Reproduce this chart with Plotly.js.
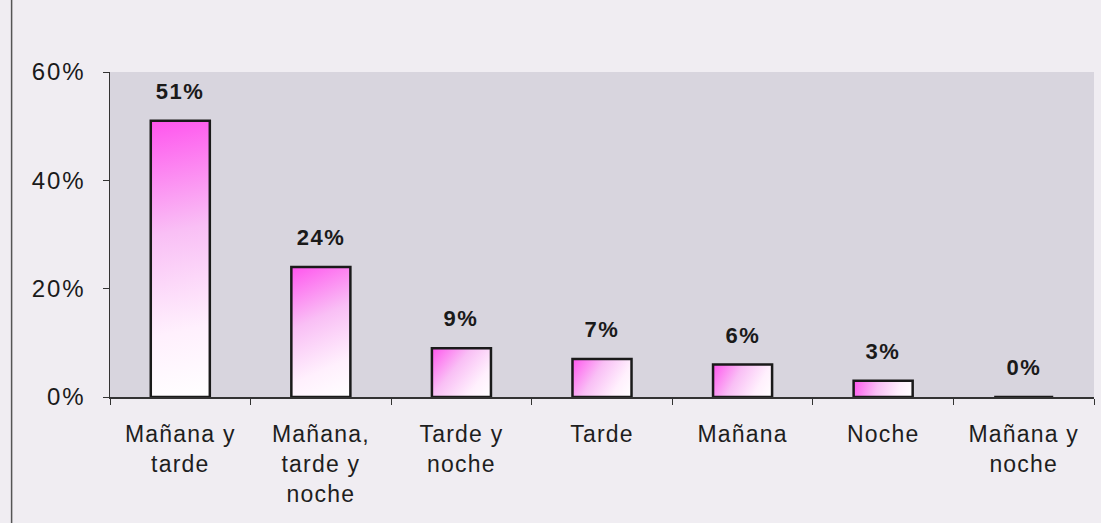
<!DOCTYPE html>
<html>
<head>
<meta charset="utf-8">
<script src="https://cdn.plot.ly/plotly-3.0.1.min.js"></script>
<style>
html,body{margin:0;padding:0;background:#f0edf2;}
#chart{width:1101px;height:523px;}
#chart .xtick text{letter-spacing:1.2px;}
#chart .ytick text{letter-spacing:2px;}
#chart .annotation-text{letter-spacing:1.5px;}
</style>
</head>
<body>
<div id="chart"></div>
<script>
const categories = ["Mañana y<br>tarde", "Mañana,<br>tarde y<br>noche", "Tarde y<br>noche", "Tarde", "Mañana", "Noche", "Mañana y<br>noche"];
const values = [51, 24, 9, 7, 6, 3, 0];
const valueLabels = ["51%", "24%", "9%", "7%", "6%", "3%", "0%"];
const yTicks = [0, 20, 40, 60];
const yTickLabels = ["0%", "20%", "40%", "60%"];

const trace = {
  type: 'bar',
  x: categories,
  y: values,
  width: 0.42,
  marker: {color: '#f7c4f2', line: {color: '#1a1a1a', width: 2.5}},
  hoverinfo: 'none'
};

const annotations = categories.map((c, i) => ({
  x: c, y: values[i], xref: 'x', yref: 'y',
  text: valueLabels[i], showarrow: false,
  yanchor: 'bottom', yshift: 15,
  font: {family: 'Liberation Sans, Arial, sans-serif', size: 22, color: '#1a1a1a', weight: 'bold'}
}));

const layout = {
  width: 1101, height: 523,
  margin: {l: 110, r: 7, t: 72, b: 126},
  paper_bgcolor: '#f0edf2',
  plot_bgcolor: '#d8d5de',
  showlegend: false,
  bargap: 0.58,
  xaxis: {
    type: 'category',
    showline: true, linecolor: '#333', linewidth: 1.5,
    ticks: 'outside', tickson: 'boundaries', ticklen: 6, tickcolor: '#333',
    ticklabelstandoff: 16,
    tickfont: {family: 'Liberation Sans, Arial, sans-serif', size: 23, color: '#1e1e1e'},
    showgrid: false, zeroline: false, fixedrange: true
  },
  yaxis: {
    range: [0, 60],
    tickvals: yTicks, ticktext: yTickLabels,
    showline: true, linecolor: '#333', linewidth: 1.5,
    ticks: 'outside', ticklen: 6, tickcolor: '#333',
    ticklabelstandoff: 12,
    tickfont: {family: 'Liberation Sans, Arial, sans-serif', size: 24, color: '#1a1a1a'},
    showgrid: false, zeroline: false, fixedrange: true
  },
  shapes: [{type: 'line', xref: 'paper', yref: 'paper', x0: -0.1, x1: -0.1, y0: -0.4, y1: 1.25,
            line: {color: '#555', width: 1.5}}],
  annotations: annotations
};

Plotly.newPlot('chart', [trace], layout, {displayModeBar: false, staticPlot: true}).then(gd => {
  const svg = gd.querySelector('svg.main-svg');
  const ns = 'http://www.w3.org/2000/svg';
  let defs = svg.querySelector('defs');
  if (!defs) { defs = document.createElementNS(ns, 'defs'); svg.insertBefore(defs, svg.firstChild); }
  const stops = [['0', '#ff55ee'], ['0.4', '#f9bff5'], ['0.75', '#fff0fd'], ['1', '#ffffff']];
  gd.querySelectorAll('.bars .point path').forEach((p, i) => {
    const b = p.getBBox();
    const grad = document.createElementNS(ns, 'linearGradient');
    grad.setAttribute('id', 'barGrad' + i);
    grad.setAttribute('gradientUnits', 'userSpaceOnUse');
    grad.setAttribute('x1', b.x); grad.setAttribute('y1', b.y);
    grad.setAttribute('x2', b.x + b.width); grad.setAttribute('y2', b.y + Math.max(b.height, 1));
    stops.forEach(([o, c]) => {
      const s = document.createElementNS(ns, 'stop');
      s.setAttribute('offset', o); s.setAttribute('stop-color', c);
      grad.appendChild(s);
    });
    defs.appendChild(grad);
    p.style.fill = 'url(#barGrad' + i + ')';
  });
});
</script>
</body>
</html>
